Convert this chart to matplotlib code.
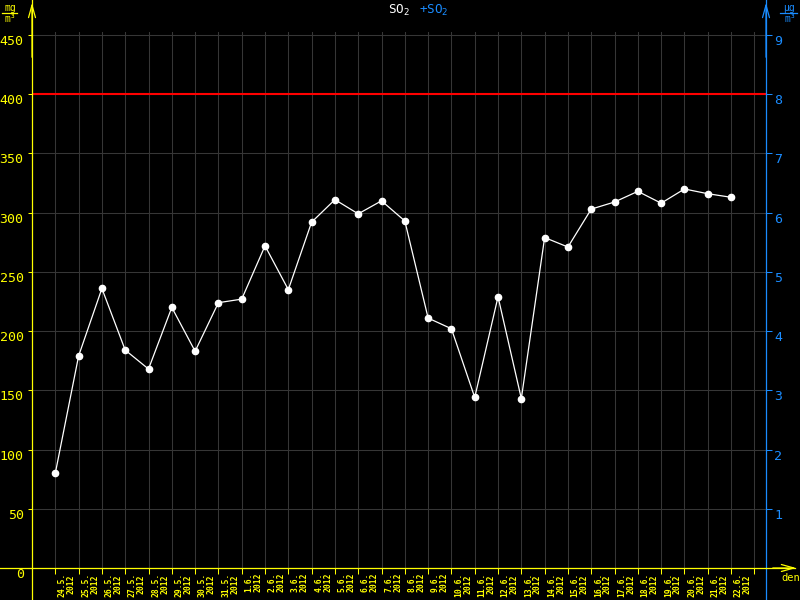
import matplotlib.pyplot as plt
from matplotlib.lines import Line2D

# days (label, year) and daily SO2 values in ug/m3 (left axis scale)
days = ["24.5.", "25.5.", "26.5.", "27.5.", "28.5.", "29.5.", "30.5.", "31.5.",
        "1.6.", "2.6.", "3.6.", "4.6.", "5.6.", "6.6.", "7.6.", "8.6.", "9.6.",
        "10.6.", "11.6.", "12.6.", "13.6.", "14.6.", "15.6.", "16.6.", "17.6.",
        "18.6.", "19.6.", "20.6.", "21.6.", "22.6."]
year = "2012"
so2 = [80, 179, 236, 184, 168, 220, 183, 224, 227, 272, 235, 292, 311, 299,
       310, 293, 211, 202, 144, 229, 143, 279, 271, 303, 309, 318, 308, 320,
       316, 313]
limit = 400
left_ticks = [0, 50, 100, 150, 200, 250, 300, 350, 400, 450]
right_ticks = [1, 2, 3, 4, 5, 6, 7, 8, 9]

YELLOW = "#ffff00"
BLUE = "#1a8cff"
GRID = "#363636"
MONO = "DejaVu Sans Mono"

W, H = 800, 600
fig = plt.figure(figsize=(8, 6), dpi=100, facecolor="black")
ax = fig.add_axes([32 / W, 32 / H, (766 - 32) / W, (568 - 32) / H], facecolor="black")

x = list(range(len(so2)))
ymax = 536 / (533 / 450)
ax.set_xlim(-1, len(so2) + 0.5)
ax.set_ylim(0, ymax)

# grid
ax.set_xticks(range(len(so2) + 1))
ax.set_yticks(left_ticks)
ax.grid(True, color=GRID, lw=0.75)
ax.set_axisbelow(True)
for s in ax.spines.values():
    s.set_visible(False)

ax.axhline(limit, color="#ff0000", lw=1.5)
ax.plot(x, so2, color="white", lw=0.9, marker="o", markersize=4.5,
        markerfacecolor="white", markeredgecolor="white", zorder=5)

# left ticks
ax.tick_params(axis="y", direction="out", length=3, width=0.75, color=YELLOW,
               labelcolor=YELLOW, labelsize=9.5, pad=3)
for lab in ax.get_yticklabels():
    lab.set_fontfamily(MONO)
    lab.set_va("top")

# bottom ticks and date labels
ax.tick_params(axis="x", which="major", direction="out", length=4, width=0.75,
               color=YELLOW, labelbottom=False)
ax.set_xticks([i + 0.5 for i in x], minor=True)
ax.set_xticklabels([d + "\n" + year for d in days], minor=True)
ax.tick_params(axis="x", which="minor", length=0, pad=3, labelcolor=YELLOW,
               labelsize=5.8)
for lab in ax.get_xticklabels(minor=True):
    lab.set_rotation(90)
    lab.set_fontfamily(MONO)
    lab.set_linespacing(1.0)
    lab.set_weight("bold")

# right axis
ax2 = ax.twinx()
ax2.set_ylim(0, ymax / 50)
ax2.set_yticks(right_ticks)
for s in ax2.spines.values():
    s.set_visible(False)
ax2.tick_params(axis="y", direction="out", length=4, width=0.75, color=BLUE,
                labelcolor=BLUE, labelsize=9.5, pad=2)
for lab in ax2.get_yticklabels():
    lab.set_fontfamily(MONO)
    lab.set_va("top")

# axis lines with arrows
arrow = dict(arrowstyle="->,head_length=0.9,head_width=0.25", lw=0.9)
fig.add_artist(Line2D([32 / W, 32 / W], [0, 1], color=YELLOW, lw=0.9))
ax.annotate("", xy=(32 / W, 1.0), xytext=(32 / W, 0.9), xycoords="figure fraction",
            arrowprops=dict(arrow, color=YELLOW))
fig.add_artist(Line2D([766 / W, 766 / W], [0, 1], color=BLUE, lw=0.9))
ax.annotate("", xy=(766 / W, 1.0), xytext=(766 / W, 0.9), xycoords="figure fraction",
            arrowprops=dict(arrow, color=BLUE))
fig.add_artist(Line2D([0, 795 / W], [32 / H, 32 / H], color=YELLOW, lw=0.9))
ax.annotate("", xy=(799 / W, 32 / H), xytext=(770 / W, 32 / H), xycoords="figure fraction",
            arrowprops=dict(arrow, color=YELLOW))
fig.text(791 / W, 1 - 578 / H, "den", color=YELLOW, fontsize=7.5, family=MONO,
         ha="center", va="center")

# units
fig.text(10 / W, 1 - 8 / H, "mg", color=YELLOW, fontsize=7, family=MONO,
         ha="center", va="center")
fig.add_artist(Line2D([2 / W, 17 / W], [1 - 13 / H, 1 - 13 / H], color=YELLOW, lw=0.9))
fig.text(10 / W, 1 - 19 / H, "m³", color=YELLOW, fontsize=7, family=MONO,
         ha="center", va="center")
fig.text(789 / W, 1 - 8 / H, "µg", color=BLUE, fontsize=7, family=MONO,
         ha="center", va="center")
fig.add_artist(Line2D([780 / W, 797 / W], [1 - 13 / H, 1 - 13 / H], color=BLUE, lw=0.9))
fig.text(790 / W, 1 - 19 / H, "m³", color=BLUE, fontsize=7, family=MONO,
         ha="center", va="center")

# title
fig.text(388 / W, 1 - 10 / H, "SO$_2$", color="white", fontsize=9, family=MONO,
         ha="left", va="center")
fig.text(419 / W, 1 - 10 / H, "+SO$_2$", color=BLUE, fontsize=9, family=MONO,
         ha="left", va="center")

fig.savefig("out.png", dpi=100, facecolor="black")
